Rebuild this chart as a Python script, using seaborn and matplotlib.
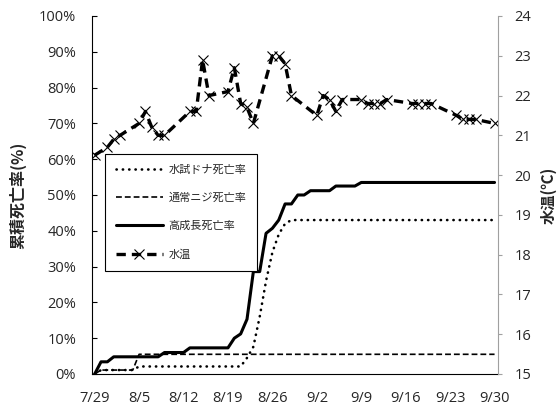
import matplotlib
matplotlib.use('Agg')
import matplotlib.pyplot as plt
import seaborn as sns
from matplotlib.lines import Line2D

# x axis: days counted from 7/29
tick_days = [0, 7, 14, 21, 28, 35, 42, 49, 56, 63]
tick_labels = ['7/29', '8/5', '8/12', '8/19', '8/26', '9/2', '9/9', '9/16', '9/23', '9/30']

# 水試ドナ死亡率 (%)
donna_days = [0, 1, 6, 7, 23, 24, 25, 26, 27, 28, 29, 30, 31, 63]
donna_rate = [0, 1.1, 1.1, 2.1, 2.1, 4.5, 7.6, 16, 26, 34, 39, 42, 43, 43]

# 通常ニジ死亡率 (%)
normal_days = [0, 1, 6, 7, 63]
normal_rate = [0, 1.1, 1.1, 5.5, 5.5]

# 高成長死亡率 (%)
fast_days = [0, 1, 2, 3, 10, 11, 14, 15, 21, 22, 23, 24, 25, 26, 27, 28, 29, 30,
             31, 32, 33, 34, 37, 38, 41, 42, 63]
fast_rate = [0, 3.4, 3.4, 4.8, 4.8, 6.0, 6.0, 7.3, 7.3, 10.0, 11.2, 15.3, 28.6, 28.6,
             39.3, 40.7, 43.0, 47.5, 47.5, 50.0, 50.0, 51.2, 51.2, 52.5, 52.5, 53.5, 53.5]

# 水温 (℃)
temp_days = [0, 2, 3, 4, 7, 8, 9, 10, 11, 15, 16, 17, 18, 21, 22, 23, 24, 25, 28, 29,
             30, 31, 35, 36, 37, 38, 39, 42, 43, 44, 45, 46, 50, 51, 52, 53, 57, 58,
             59, 60, 63]
temp = [20.5, 20.7, 20.9, 21.0, 21.3, 21.6, 21.2, 21.0, 21.0, 21.6, 21.6, 22.9, 22.0,
        22.1, 22.7, 21.8, 21.7, 21.3, 23.0, 23.0, 22.8, 22.0, 21.5, 22.0, 21.9, 21.6,
        21.9, 21.9, 21.8, 21.8, 21.8, 21.9, 21.8, 21.8, 21.8, 21.8, 21.5, 21.4, 21.4,
        21.4, 21.3]

labels = ['水試ドナ死亡率', '通常ニジ死亡率', '高成長死亡率', '水温']

sns.set_style('white')
plt.rcParams['font.family'] = ['Open Sans', 'Noto Sans CJK JP', 'DejaVu Sans']
cjk = ['Noto Sans CJK JP', 'DejaVu Sans']

dotted = dict(color='k', lw=1.9, linestyle=(0, (0.1, 2.3)), dash_capstyle='round')
dashed = dict(color='k', lw=1.2, linestyle=(0, (3.5, 1.8)))
solid = dict(color='k', lw=2.2, linestyle='-')
temp_style = dict(color='k', lw=2.4, linestyle=(0, (2.8, 1.8)), marker='x',
                  markersize=7.5, markeredgewidth=0.8, markeredgecolor='k')

fig = plt.figure(figsize=(5.6, 4.07), dpi=100)
ax = fig.add_axes([0.1634, 0.0811, 0.7254, 0.8796])
ax2 = ax.twinx()

sns.lineplot(x=donna_days, y=donna_rate, ax=ax, errorbar=None, **dotted)
sns.lineplot(x=normal_days, y=normal_rate, ax=ax, errorbar=None, **dashed)
sns.lineplot(x=fast_days, y=fast_rate, ax=ax, errorbar=None, **solid)
sns.lineplot(x=temp_days, y=temp, ax=ax2, errorbar=None, **temp_style)

ax.set_xlim(-0.5, 63.5)
ax.set_ylim(0, 100)
ax2.set_ylim(15, 24)

ax.set_xticks(tick_days)
ax.set_xticklabels(tick_labels)
ax.set_xticks([d - 0.5 for d in tick_days], minor=True)
ax.tick_params(axis='x', which='major', length=0, pad=12, labelsize=10.5)
ax.tick_params(axis='x', which='minor', direction='in', length=3.5, width=0.8, color='k')

ax.set_yticks(range(0, 101, 10))
ax.set_yticklabels([f'{v}%' for v in range(0, 101, 10)])
ax.tick_params(axis='y', direction='in', length=3.5, width=0.8, color='k', pad=11, labelsize=10.5)

ax2.set_yticks(range(15, 25))
ax2.tick_params(axis='y', direction='out', length=3, width=0.8, color='#a0a0a0', pad=9, labelsize=10.5)

for s in ['top', 'right']:
    ax.spines[s].set_visible(False)
for s in ['top', 'left', 'bottom']:
    ax2.spines[s].set_visible(False)
ax.spines['left'].set_color('k')
ax.spines['bottom'].set_color('k')
ax.spines['left'].set_linewidth(0.8)
ax.spines['bottom'].set_linewidth(0.8)
ax2.spines['right'].set_color('#a0a0a0')
ax2.spines['right'].set_linewidth(0.8)

ax.set_xlabel('')
ax.set_ylabel('累積死亡率(%)', family=cjk, fontsize=11.5, fontweight='bold')
ax.yaxis.set_label_coords(-0.161, 0.5)
ax2.set_ylabel('水温(℃)', family=cjk, fontsize=11, fontweight='bold')
ax2.yaxis.set_label_coords(1.106, 0.5)

handles = [Line2D([], [], **dotted), Line2D([], [], **dashed),
           Line2D([], [], **solid), Line2D([], [], **temp_style)]
leg = ax2.legend(handles, labels, loc='upper left', bbox_to_anchor=(0.033, 0.6145),
                 borderaxespad=0, numpoints=1, handlelength=4.2, handletextpad=0.5,
                 labelspacing=1.6, borderpad=1.0, fancybox=False, framealpha=1,
                 edgecolor='k', prop={'family': cjk, 'size': 8})
leg.get_frame().set_linewidth(0.8)

fig.savefig('out.png', dpi=100)
